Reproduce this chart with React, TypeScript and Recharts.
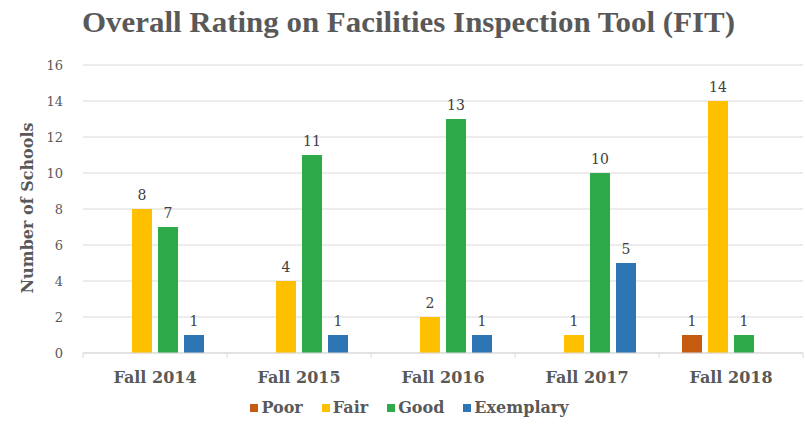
import React from "react";
import { BarChart, Bar, XAxis, YAxis, CartesianGrid, LabelList, Legend } from "recharts";

const categories = ["Fall 2014", "Fall 2015", "Fall 2016", "Fall 2017", "Fall 2018"];
const poor = [null, null, null, null, 1];
const fair = [8, 4, 2, 1, 14];
const good = [7, 11, 13, 10, 1];
const exemplary = [1, 1, 1, 5, null];
const yTicks = [0, 2, 4, 6, 8, 10, 12, 14, 16];

const seriesNames = ["Poor", "Fair", "Good", "Exemplary"];
const seriesColors = ["#C55A11", "#FFC000", "#2EAA4A", "#2E75B6"];

const data = categories.map((c, i) => ({
  name: c,
  Poor: poor[i],
  Fair: fair[i],
  Good: good[i],
  Exemplary: exemplary[i],
}));

const W = 805;
const H = 427;
const MARGIN = { top: 65, right: 2, left: 23, bottom: 44 };
const YAXIS_W = 60;
const PLOT_W = W - MARGIN.left - MARGIN.right - YAXIS_W;
const HALF_BAND = PLOT_W / categories.length / 2;

const SERIF = "'DejaVu Serif', 'Liberation Serif', serif";
const TITLE_FONT = "'Liberation Serif', 'DejaVu Serif', serif";
const TEXT = "#595959";

const XTick = (props: any) => {
  const { x, y, payload, index } = props;
  const top = y - 8;
  return (
    <g>
      <line x1={x - HALF_BAND} x2={x - HALF_BAND} y1={top} y2={top + 5} stroke="#D9D9D9" />
      {index === categories.length - 1 ? (
        <line x1={x + HALF_BAND} x2={x + HALF_BAND} y1={top} y2={top + 5} stroke="#D9D9D9" />
      ) : null}
      <text x={x} y={y + 22} textAnchor="middle" fontFamily={SERIF} fontWeight="bold" fontSize={16} fill={TEXT}>
        {payload.value}
      </text>
    </g>
  );
};

const LegendContent = () => (
  <div style={{ display: "flex", justifyContent: "center", alignItems: "center", fontFamily: SERIF, fontWeight: "bold", fontSize: 16, color: TEXT, paddingLeft: 14 }}>
    {seriesNames.map((n, i) => (
      <div key={n} style={{ display: "flex", alignItems: "center", marginLeft: i === 0 ? 0 : 19 }}>
        <span style={{ display: "inline-block", width: 8, height: 8, background: seriesColors[i], marginRight: 3 }} />
        <span>{n}</span>
      </div>
    ))}
  </div>
);

export default function App() {
  return (
    <div style={{ position: "absolute", left: 0, top: 0, width: W, height: H, background: "#fff" }}>
      <svg width={W} height={H} style={{ position: "absolute", left: 0, top: 0 }}>
        <text x={82} y={32} textLength={653} lengthAdjust="spacingAndGlyphs" fontFamily={TITLE_FONT} fontWeight="bold" fontSize={29} fill={TEXT}>
          Overall Rating on Facilities Inspection Tool (FIT)
        </text>
        <text x={0} y={0} transform="translate(33,208) rotate(-90)" textAnchor="middle" fontFamily={SERIF} fontWeight="bold" fontSize={16} fill={TEXT}>
          Number of Schools
        </text>
      </svg>
      <div style={{ position: "absolute", left: 0, top: 0 }}>
        <BarChart width={W} height={H} data={data} margin={MARGIN} barGap={6} barSize={20}>
          <CartesianGrid vertical={false} stroke="#D9D9D9" />
          <XAxis dataKey="name" height={30} axisLine={{ stroke: "#D9D9D9" }} tickLine={false} tick={<XTick />} interval={0} />
          <YAxis
            width={YAXIS_W}
            domain={[0, 16]}
            ticks={yTicks}
            axisLine={false}
            tickLine={false}
            tickSize={6}
            tickMargin={14}
            tick={{ fontFamily: SERIF, fontSize: 13, fill: TEXT }}
          />
          <Legend
            verticalAlign="middle"
            align="center"
            layout="horizontal"
            wrapperStyle={{ top: 398, left: 0, width: W }}
            content={<LegendContent />}
          />
          {seriesNames.map((n, i) => (
            <Bar key={n} dataKey={n} fill={seriesColors[i]} isAnimationActive={false}>
              <LabelList dataKey={n} position="top" offset={9} fontFamily={SERIF} fontSize={14} fill="#404040" />
            </Bar>
          ))}
        </BarChart>
      </div>
    </div>
  );
}
